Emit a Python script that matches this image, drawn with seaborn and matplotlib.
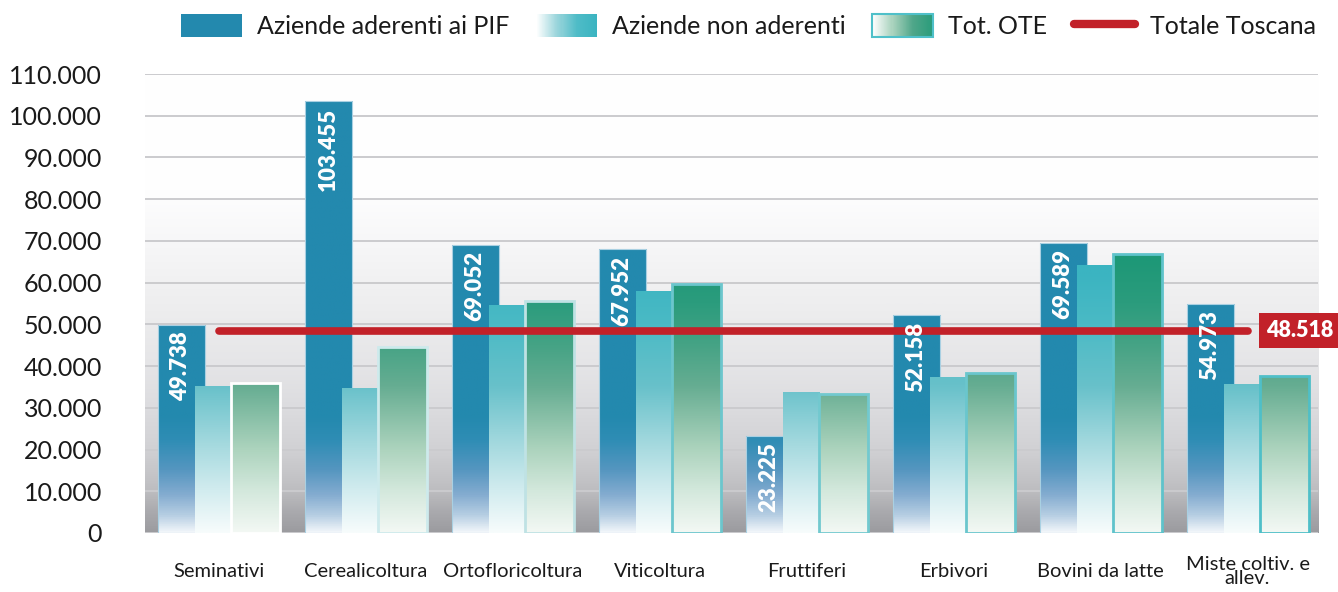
import numpy as np
import pandas as pd
import matplotlib
matplotlib.use("Agg")
import matplotlib.pyplot as plt
import seaborn as sns
from matplotlib.colors import LinearSegmentedColormap
from matplotlib.patches import Rectangle
from matplotlib.lines import Line2D
from matplotlib.legend_handler import HandlerBase
from matplotlib.ticker import FuncFormatter, MultipleLocator

# ---------------- data ----------------
categories = ["Seminativi", "Cerealicoltura", "Ortofloricoltura", "Viticoltura",
              "Fruttiferi", "Erbivori", "Bovini da latte", "Miste coltiv. e\nallev."]
aderenti = [49738, 103455, 69052, 67952, 23225, 52158, 69589, 54973]
non_aderenti = [35300, 34800, 54700, 58000, 33800, 37400, 64300, 35700]
tot_ote = [36000, 44600, 55600, 59700, 33300, 38400, 66900, 37700]
totale_toscana = 48518
series_names = ["Aziende aderenti ai PIF", "Aziende non aderenti", "Tot. OTE"]
toscana_name = "Totale Toscana"
y_max = 110000
y_step = 10000

def fmt_it(v):
    return f"{int(round(v)):,}".replace(",", ".")

# ---------------- style ----------------
sns.set_theme(style="white")
plt.rcParams["font.family"] = ["Lato", "DejaVu Sans"]

BLUE = "#2389ae"
TEAL = "#3bb4c1"
GREEN = "#1e9877"
RED = "#c22129"

def ycmap(name, stops):
    return LinearSegmentedColormap.from_list(name, [(v / y_max, c) for v, c in stops])

blue_cmap = ycmap("b", [(0, "#f2f6fa"), (4000, "#b7cfe3"), (9000, "#84acd0"),
                        (15000, "#5596c0"), (22000, "#2f8db5"), (28000, BLUE), (y_max, BLUE)])
teal_cmap = ycmap("t", [(0, "#f7fcfc"), (10000, "#d2ecef"), (20000, "#a9dbe0"),
                        (35000, "#68c1ca"), (50000, "#4abac5"), (62000, TEAL), (y_max, TEAL)])
green_cmap = ycmap("g", [(0, "#f3f8f4"), (10000, "#d3e8dc"), (20000, "#acd3bd"),
                         (35000, "#66ad92"), (45000, "#45a385"), (55000, "#2b9c7d"),
                         (65000, GREEN), (y_max, GREEN)])
bg_cmap = ycmap("bg", [(0, "#9b9b9f"), (5000, "#aaaaae"), (10000, "#bdbdc0"),
                       (20000, "#d1d1d4"), (30000, "#dcdcdf"), (40000, "#e5e5e7"),
                       (55000, "#eeeeef"), (70000, "#f7f7f8"), (82000, "#fefefe"),
                       (y_max, "#ffffff")])

# bar geometry within a category (offset of left edge, width) per series
geom = [(-0.415, 0.32), (-0.163, 0.25), (0.088, 0.327)]
cmaps = [blue_cmap, teal_cmap, green_cmap]
zorders = [2, 3, 4]
green_edges = ["#ffffff", "#cdeaec", "#bfe2e4", "#6cc6cd", "#72c9cf", "#6ac6cd", "#5fc3cb", "#4fbfc8"]

# ---------------- figure ----------------
fig = plt.figure(figsize=(13.38, 5.92), dpi=100)
ax = fig.add_axes([0.1084, 0.0997, 0.8767, 0.7753])

df = pd.DataFrame({
    "cat": categories * 3,
    "serie": [s for s in series_names for _ in categories],
    "val": aderenti + non_aderenti + tot_ote,
})
sns.barplot(data=df, x="cat", y="val", hue="serie", order=categories,
            hue_order=series_names, palette=[BLUE, TEAL, GREEN], width=0.83,
            saturation=1, dodge=True, legend=False, ax=ax)

grad = np.linspace(0, 1, 512).reshape(-1, 1)
for si, cont in enumerate(ax.containers):
    off, w = geom[si]
    for j, bar in enumerate(cont.patches):
        bar.set_x(j + off)
        bar.set_width(w)
        bar.set_zorder(zorders[si] + 0.1)
        bar.set_facecolor("none")
        if si == 0:
            bar.set_edgecolor("#a9d0e2"); bar.set_linewidth(0.8)
        elif si == 1:
            bar.set_edgecolor("none")
        else:
            bar.set_edgecolor(green_edges[j]); bar.set_linewidth(2.0)
        im = ax.imshow(grad, extent=[j + off, j + off + w, 0, y_max], origin="lower",
                       aspect="auto", cmap=cmaps[si], vmin=0, vmax=1,
                       interpolation="bilinear", zorder=zorders[si])
        im.set_clip_path(bar)

# background gradient
ax.imshow(grad, extent=[-0.5, len(categories) - 0.5, 0, y_max], origin="lower",
          aspect="auto", cmap=bg_cmap, vmin=0, vmax=1, zorder=0.1)

ax.set_xlim(-0.5, len(categories) - 0.52)
ax.set_ylim(0, y_max)
ax.set_xlabel("")
ax.set_ylabel("")
for s in ax.spines.values():
    s.set_visible(False)

ax.yaxis.set_major_locator(MultipleLocator(y_step))
ax.yaxis.set_major_formatter(FuncFormatter(lambda v, p: fmt_it(v)))
ax.set_axisbelow(True)
ax.yaxis.grid(True, color="#cbcbce", lw=1.4)
ax.xaxis.grid(False)
ax.tick_params(axis="y", length=0, labelsize=18, pad=31, labelcolor="#1a1a1a")
ax.tick_params(axis="x", length=0, labelsize=14.5, pad=28, labelcolor="#1a1a1a")
ax.set_xticks(range(len(categories)))
ax.set_xticklabels(categories, va="center", linespacing=0.8)

# value labels inside the PIF bars
for j, bar in enumerate(ax.containers[0].patches):
    ax.annotate(fmt_it(aderenti[j]), xy=(bar.get_x() + bar.get_width() / 2, aderenti[j]),
                xytext=(0, -4.5), textcoords="offset points", rotation=90,
                ha="center", va="top", color="white", fontweight="heavy",
                fontsize=16, zorder=7)

# Totale Toscana line
ax.plot([0, len(categories) - 1], [totale_toscana, totale_toscana], color=RED,
        lw=5.5, solid_capstyle="round", zorder=5)
ax.annotate(fmt_it(totale_toscana), xy=(len(categories) - 1, totale_toscana),
            xytext=(13.5, 0), textcoords="offset points", ha="left", va="center",
            color="white", fontweight="heavy", fontsize=15.5, zorder=8,
            annotation_clip=False,
            bbox=dict(boxstyle="square,pad=0.33", fc=RED, ec="none"))

# ---------------- legend ----------------
class GradHandler(HandlerBase):
    def __init__(self, cmap, edge=None):
        super().__init__()
        self.cmap = cmap
        self.edge = edge

    def create_artists(self, legend, orig_handle, xdescent, ydescent, width,
                       height, fontsize, trans):
        n = 60
        arts = []
        for k in range(n):
            arts.append(Rectangle((-xdescent + width * k / n, -ydescent),
                                  width / n * 1.1, height,
                                  facecolor=self.cmap(k / (n - 1)),
                                  edgecolor="none", transform=trans))
        if self.edge:
            arts.append(Rectangle((-xdescent, -ydescent), width, height,
                                  facecolor="none", edgecolor=self.edge,
                                  lw=1.5, transform=trans))
        return arts

leg_teal = LinearSegmentedColormap.from_list("lt", ["#ffffff", "#9dd6dc", "#4fbcc7", TEAL])
leg_green = LinearSegmentedColormap.from_list("lg", ["#ffffff", "#a8d2bd", "#4fa689", "#2a9c7b"])

h_blue = Rectangle((0, 0), 1, 1, facecolor=BLUE, edgecolor="none")
h_teal = Rectangle((0, 0), 1, 1)
h_green = Rectangle((0, 0), 1, 1)
h_red = Line2D([0], [0], color=RED, lw=6, solid_capstyle="round")

fig.legend([h_blue, h_teal, h_green, h_red], series_names + [toscana_name],
           handler_map={h_teal: GradHandler(leg_teal),
                        h_green: GradHandler(leg_green, edge="#4fc0c9")},
           loc="center", bbox_to_anchor=(0.5594, 1 - 26 / 592), ncol=4,
           frameon=False, fontsize=18, handlelength=2.45, handleheight=1.0,
           handletextpad=0.6, columnspacing=1.05, labelcolor="#1a1a1a")

fig.savefig("out.png", dpi=100)
